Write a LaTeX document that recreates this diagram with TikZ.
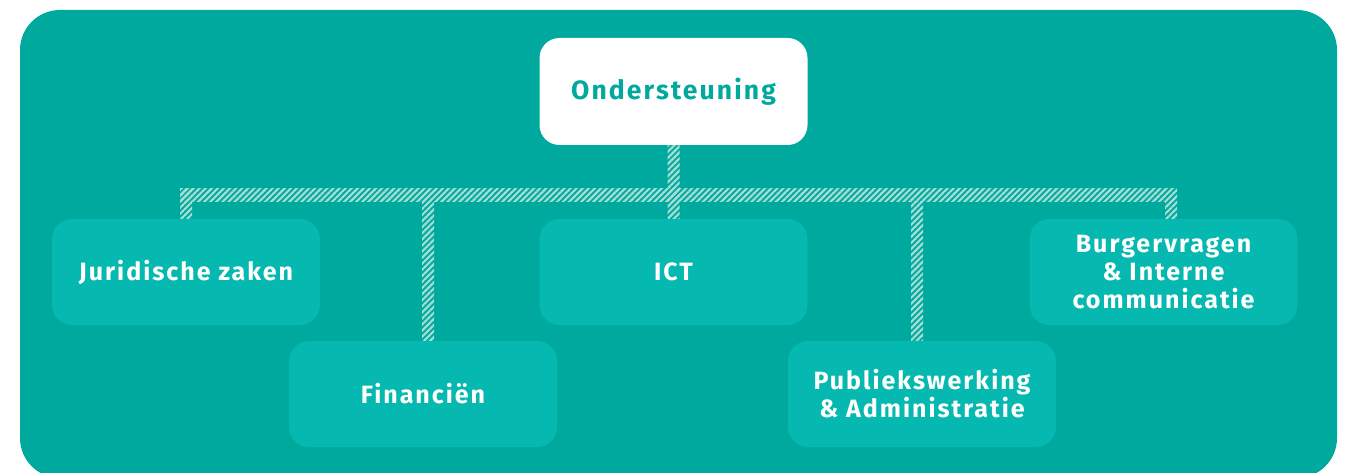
\documentclass[tikz,border=0pt]{standalone}
\usepackage{fontspec}
\setmainfont{Fira Sans}[LetterSpace=8]
\usetikzlibrary{patterns.meta,calc}
\definecolor{bgteal}{RGB}{0,169,157}
\definecolor{boxteal}{RGB}{6,185,176}
\definecolor{hatchc}{RGB}{162,222,214}
\begin{document}
\begin{tikzpicture}[x=1pt,y=1pt,
  unit/.style={fill=boxteal,rounded corners=20pt,minimum width=268pt,minimum height=106pt,
    text=white,font=\fontsize{25}{28}\selectfont\bfseries,align=center,inner sep=0pt},
  top/.style={unit,fill=white,minimum height=107pt,text=bgteal,font=\fontsize{26.5}{30}\selectfont\bfseries},
  hatch/.style={pattern={Lines[angle=45,distance=4.3pt,line width=2.2pt]},pattern color=hatchc}]
\useasboundingbox (0,0) rectangle (1348,-473);
\begin{scope}
\clip (0,0) rectangle (1348,-473);
\fill[bgteal,rounded corners=40pt] (20,-10) rectangle (1337,-478);
\end{scope}
% nodes
\node[top]  (ond) at (673.5,-91.5) {Ondersteuning};
\node[unit] (jur) at (186,-272) {Juridische zaken};
\node[unit] (ict) at (673.5,-272) {ICT};
\node[unit] (bur) at (1163.5,-272) {Burgervragen\\\& Interne\\communicatie};
\node[unit] (fin) at (423,-394) {Financiën};
\node[unit] (pub) at (922,-394) {Publiekswerking\\\& Administratie};
% connector geometry
\coordinate (barL) at (180,-189);
\coordinate (barR) at (1177,-201);
\coordinate (dJur) at (186,-195);
\coordinate (dFin) at (428,-195);
\coordinate (dPub) at (917,-195);
\coordinate (dBur) at (1171,-195);
% connectors
\fill[hatch] ($(ond.south)+(-6,0)$) rectangle ($(ict.north)+(6,0)$);
\fill[hatch] (barL) rectangle (barR);
\fill[hatch] ($(dJur)+(-6,6)$) rectangle ($(dJur |- jur.north)+(6,0)$);
\fill[hatch] ($(dFin)+(-6,-6)$) rectangle ($(dFin |- fin.north)+(6,0)$);
\fill[hatch] ($(dPub)+(-6,-6)$) rectangle ($(dPub |- pub.north)+(6,0)$);
\fill[hatch] ($(dBur)+(-6,-6)$) rectangle ($(dBur |- bur.north)+(6,0)$);
\end{tikzpicture}
\end{document}
